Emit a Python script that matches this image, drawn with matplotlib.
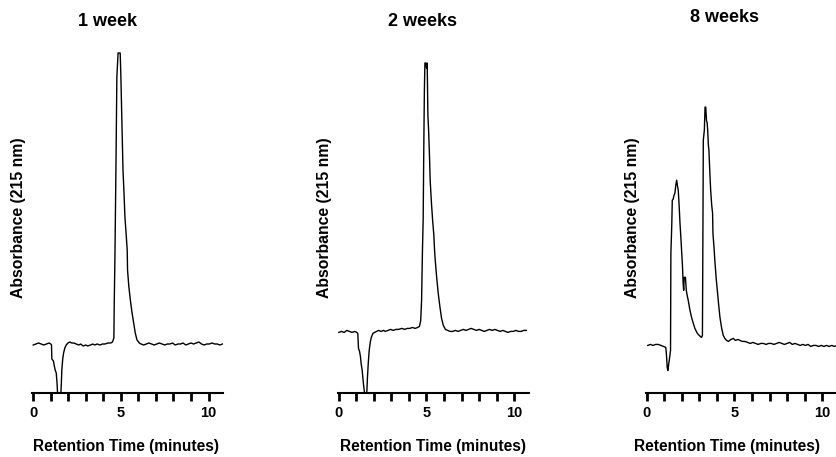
import matplotlib
matplotlib.use("Agg")
import matplotlib.pyplot as plt

plt.rcParams['font.family'] = ['Liberation Sans', 'DejaVu Sans']
plt.rcParams['font.weight'] = 'bold'

# chromatogram traces (time in minutes, absorbance in arbitrary units)
t1 = [0.0, 0.15, 0.3, 0.45, 0.6, 0.75, 0.9, 1.0, 1.04, 1.06, 1.15, 1.2, 1.25, 1.31, 1.36, 1.40,
      1.56, 1.60, 1.63, 1.68, 1.73, 1.80, 1.88, 1.98, 2.08, 2.2, 2.31, 2.45, 2.6, 2.7, 2.85, 3.0,
      3.1, 3.27, 3.4, 3.5, 3.65, 3.8, 3.95, 4.1, 4.25, 4.42, 4.52, 4.6, 4.62, 4.66, 4.72, 4.77,
      4.84, 4.90, 4.96, 5.0, 5.06, 5.12, 5.18, 5.23, 5.30, 5.36, 5.38, 5.45, 5.54, 5.63, 5.73,
      5.82, 5.92, 6.05, 6.15, 6.3, 6.45, 6.6, 6.75, 6.9, 7.05, 7.2, 7.35, 7.5, 7.65, 7.8, 7.95,
      8.1, 8.25, 8.4, 8.55, 8.7, 8.85, 9.0, 9.15, 9.3, 9.45, 9.6, 9.75, 9.9, 10.05, 10.2, 10.35,
      10.5, 10.65, 10.8]
a1 = [-1, 0, 1, 0, -1, 0, 1, 0, -1, -15, -17, -22, -26, -29, -40, -55,
      -55, -40, -26, -15, -9, -4, -1, 1, 2, 1, 1, 0, -1, 0, -2, -1,
      -2, -1, 0, -1, 0, -1, 0, 0, 1, 1, 2, 6, 40, 87, 180, 267,
      291, 291, 291, 267, 220, 174, 150, 127, 110, 94, 74, 58, 44, 32, 21,
      11, 4, 1, 0, -1, 0, 1, 0, -1, 0, 1, 0, -1, 0, 0, 1,
      -1, 0, 0, 1, -1, 0, 1, 0, 1, 2, 0, -1, 0, 0, 1, 0,
      0, -1, 0]

t2 = [0.0, 0.15, 0.3, 0.45, 0.6, 0.75, 0.9, 1.02, 1.08, 1.12, 1.18, 1.23, 1.27, 1.33, 1.40, 1.46,
      1.55, 1.60, 1.63, 1.68, 1.73, 1.79, 1.85, 1.94, 2.04, 2.15, 2.27, 2.4, 2.55, 2.65, 2.8, 2.95,
      3.1, 3.25, 3.4, 3.6, 3.75, 3.9, 4.05, 4.2, 4.35, 4.5, 4.6, 4.67, 4.72, 4.77, 4.81, 4.85,
      4.88, 4.91, 4.96, 5.0, 5.04, 5.08, 5.12, 5.17, 5.21, 5.28, 5.35, 5.42, 5.46, 5.5, 5.58,
      5.67, 5.77, 5.86, 5.96, 6.08, 6.21, 6.35, 6.5, 6.65, 6.8, 6.95, 7.1, 7.25, 7.4, 7.55, 7.7,
      7.85, 8.0, 8.15, 8.3, 8.45, 8.6, 8.75, 8.9, 9.05, 9.2, 9.35, 9.5, 9.65, 9.8, 9.95, 10.1,
      10.25, 10.4, 10.55, 10.7]
a2 = [-2, -1, -2, 0, -1, -2, -1, -2, -3, -18, -21, -26, -33, -40, -53, -62,
      -68, -60, -47, -32, -20, -12, -7, -3, -2, -1, 0, -1, 0, -1, 0, 1,
      0, 1, 1, 2, 1, 2, 2, 3, 2, 3, 4, 10, 30, 80, 110, 190,
      240, 267, 267, 262, 267, 215, 200, 175, 150, 128, 110, 95, 80, 70, 53,
      37, 23, 12, 5, 1, 0, -1, -1, 0, -1, 0, 1, 0, 1, 2, 1,
      0, 1, 0, -1, 0, 1, 0, 1, 0, -1, 0, -1, -2, -1, -1, 0,
      -1, -1, 0, 0]

t3 = [0.05, 0.2, 0.35, 0.5, 0.65, 0.8, 0.95, 1.08, 1.12, 1.16, 1.2, 1.25, 1.30, 1.35, 1.37, 1.42,
      1.45, 1.5, 1.55, 1.6, 1.65, 1.7, 1.74, 1.79, 1.84, 1.89, 1.94, 1.98, 2.03, 2.07, 2.1, 2.13,
      2.2, 2.25, 2.3, 2.36, 2.45, 2.55, 2.65, 2.74, 2.85, 2.93, 3.05, 3.12, 3.17, 3.2, 3.22, 3.28,
      3.32, 3.36, 3.4, 3.44, 3.47, 3.51, 3.54, 3.6, 3.64, 3.7, 3.75, 3.77, 3.83, 3.89, 3.96,
      4.02, 4.1, 4.17, 4.27, 4.36, 4.45, 4.55, 4.65, 4.8, 4.93, 5.05, 5.2, 5.31, 5.45, 5.6, 5.75,
      5.9, 6.05, 6.2, 6.35, 6.5, 6.65, 6.8, 6.95, 7.1, 7.25, 7.4, 7.55, 7.7, 7.85, 8.0, 8.15,
      8.3, 8.45, 8.6, 8.75, 8.9, 9.05, 9.2, 9.35, 9.5, 9.65, 9.8, 9.95, 10.1, 10.25, 10.4, 10.55,
      10.7, 10.85]
a3 = [0, 1, 0, 1, 1, 0, -1, -2, -10, -22, -25, -18, -12, -5, 92, 120,
      145, 146, 150, 152, 160, 165, 160, 155, 140, 122, 108, 95, 80, 62, 55, 68,
      68, 55, 50, 45, 36, 28, 22, 17, 13, 11, 9, 8, 10, 120, 205, 215,
      238, 238, 225, 222, 215, 200, 195, 170, 155, 140, 132, 112, 98, 82, 66,
      55, 40, 28, 17, 10, 7, 5, 4, 6, 7, 5, 6, 5, 4, 4, 3,
      2, 3, 2, 1, 2, 2, 1, 2, 2, 1, 2, 3, 2, 1, 2, 3,
      1, 2, 1, 0, 1, 0, 1, -1, 0, 0, -1, 0, -1, 0, -1, 0,
      -1, 0]

titles = ['1 week', '2 weeks', '8 weeks']
traces = [(t1, a1), (t2, a2), (t3, a3)]
ylims = [(-48.5, 294), (-62, 280), (-47, 295)]

W, H = 837, 457
fig = plt.figure(figsize=(W / 100, H / 100), dpi=100)

lefts = [32.4, 338, 646]          # pixel positions of the axes
bottom_px, top_px, width_px = 392.5, 50, 191
height_px = bottom_px - top_px
title_x = [0.395, 0.44, 0.41]
title_y = [22, 22, 18]
xlab_px = [126, 433, 727]
ylab_px = [18.5, 325, 633]

for i in range(3):
    ax = fig.add_axes([lefts[i] / W, (H - bottom_px) / H, width_px / W, height_px / H])
    t, a = traces[i]
    ax.plot(t, a, color='black', lw=1.0)
    ax.set_xlim(-0.05, 10.85)
    ax.set_ylim(*ylims[i])
    for s in ['top', 'right', 'left']:
        ax.spines[s].set_visible(False)
    ax.spines['bottom'].set_linewidth(1.5)
    ax.set_yticks([])
    ax.set_xticks(range(0, 11))
    ax.set_xticklabels(['0', '', '', '', '', '5', '', '', '', '', '10'])
    ax.tick_params(axis='x', direction='out', length=6, width=2, pad=4, labelsize=10.5)
    ax.set_xlabel('Retention Time (minutes)', fontsize=11.2, fontweight='bold', va='center')
    ax.xaxis.set_label_coords((xlab_px[i] - lefts[i]) / width_px, -(446 - bottom_px) / height_px)
    ax.set_ylabel('Absorbance (215 nm)', fontsize=11.3, fontweight='bold', va='center')
    ax.yaxis.set_label_coords((ylab_px[i] - lefts[i]) / width_px, 0.51)
    fig.text((lefts[i] + title_x[i] * width_px) / W, 1 - title_y[i] / H, titles[i],
             ha='center', va='center', fontsize=13, fontweight='bold')

fig.savefig('out.png', dpi=100)
